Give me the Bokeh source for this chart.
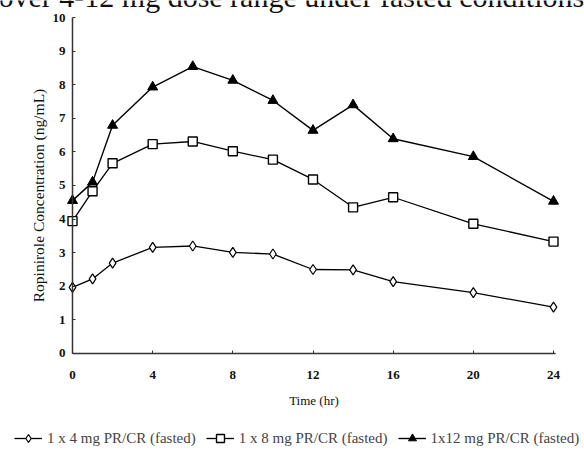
import math
from bokeh.plotting import figure
from bokeh.models import Range1d, Legend, LegendItem, Label, FixedTicker
from bokeh.embed import file_html
from bokeh.resources import INLINE

time_hr = [0, 1, 2, 4, 6, 8, 10, 12, 14, 16, 20, 24]
conc_4mg = [1.97, 2.22, 2.69, 3.16, 3.20, 3.01, 2.96, 2.50, 2.49, 2.14, 1.81, 1.38]
conc_8mg = [3.94, 4.83, 5.66, 6.23, 6.31, 6.02, 5.77, 5.18, 4.35, 4.65, 3.86, 3.33]
conc_12mg = [4.55, 5.10, 6.79, 7.93, 8.54, 8.13, 7.53, 6.64, 7.40, 6.39, 5.86, 4.53]
x_ticks = [0, 4, 8, 12, 16, 20, 24]
y_ticks = list(range(0, 11))
series_labels = ["1 x 4 mg PR/CR (fasted)", "1 x 8 mg PR/CR (fasted)", "1x12 mg PR/CR (fasted)"]
title_text = "over 4-12 mg dose range under fasted conditions"
y_label = "Ropinirole Concentration (ng/mL)"
x_label = "Time (hr)"

SERIF = "Liberation Serif"
W, H = 584, 455

# frame covers the whole canvas; axes are placed at data 0 with fixed_location
p = figure(width=W, height=H, output_backend="svg", toolbar_location=None,
           x_range=Range1d(-3.593, 25.547), y_range=Range1d(-3.036, 10.506),
           min_border_left=0, min_border_right=0, min_border_top=0, min_border_bottom=0)
p.outline_line_color = None
p.xgrid.visible = False
p.ygrid.visible = False

for ax in (p.xaxis[0], p.yaxis[0]):
    ax.fixed_location = 0
    ax.major_tick_in = 3
    ax.major_tick_out = 0
    ax.minor_tick_line_color = None
    ax.axis_line_color = "#333333"
    ax.axis_line_width = 1.5
    ax.major_tick_line_color = "#333333"
    ax.major_label_text_font = SERIF
    ax.major_label_text_font_size = "13px"
    ax.major_label_text_font_style = "bold"
    ax.major_label_text_color = "#111111"
    ax.axis_label_text_font = SERIF
    ax.axis_label_text_font_style = "normal"
    ax.axis_label_text_color = "#111111"

p.yaxis[0].bounds = (0, 10)
p.yaxis[0].ticker = FixedTicker(ticks=y_ticks)
p.yaxis[0].major_label_standoff = 7

p.xaxis[0].bounds = (0, 24.1)
p.xaxis[0].ticker = FixedTicker(ticks=x_ticks)
p.xaxis[0].axis_label = x_label
p.xaxis[0].axis_label_text_font_size = "13px"
p.xaxis[0].major_label_standoff = 18
p.xaxis[0].axis_label_standoff = 10

p.add_layout(Label(x=38, y=H - 195, x_units="screen", y_units="screen", text=y_label,
                   angle=math.pi / 2, text_align="center", text_baseline="middle",
                   text_font=SERIF, text_font_size="15.5px", text_color="#111111"))

l1 = p.line(time_hr, conc_4mg, line_color="black", line_width=1.3)
m1 = p.scatter(time_hr, conc_4mg, marker="diamond", size=10, fill_color="white",
               line_color="black", line_width=1.2)
l2 = p.line(time_hr, conc_8mg, line_color="black", line_width=1.3)
m2 = p.scatter(time_hr, conc_8mg, marker="square", size=9, fill_color="white",
               line_color="black", line_width=1.4)
l3 = p.line(time_hr, conc_12mg, line_color="black", line_width=1.4)
m3 = p.scatter(time_hr, conc_12mg, marker="triangle", size=10, fill_color="black",
               line_color="black")

legend = Legend(items=[LegendItem(label=series_labels[0], renderers=[l1, m1]),
                       LegendItem(label=series_labels[1], renderers=[l2, m2]),
                       LegendItem(label=series_labels[2], renderers=[l3, m3])],
                orientation="horizontal", location=(14, 7),
                label_text_font=SERIF, label_text_font_size="15px",
                glyph_width=28, label_standoff=5, spacing=10, padding=0,
                border_line_color=None, background_fill_alpha=0)
p.add_layout(legend, "center")

p.add_layout(Label(x=-2, y=H + 4, x_units="screen", y_units="screen", text=title_text,
                   text_font=SERIF, text_font_size="30px", text_baseline="alphabetic",
                   text_color="#111111"))

open("out.html", "w").write(file_html(p, INLINE))
